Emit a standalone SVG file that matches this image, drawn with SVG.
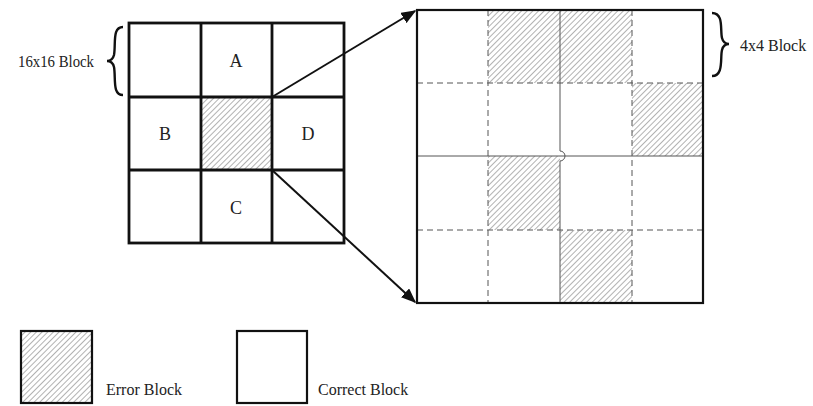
<svg xmlns="http://www.w3.org/2000/svg" width="813" height="406" viewBox="0 0 813 406">
<style>
.t{font-family:"Liberation Serif","Times New Roman",serif;fill:#222}
.lbl{font-size:18px;text-anchor:middle}
.sm{font-size:16px}
.thick{stroke:#111;stroke-width:2.8;fill:none}
.cell{fill:#fff;stroke:#111;stroke-width:2.8}
.err{fill:url(#hatch)}
.dash{stroke:#555;stroke-width:1;stroke-dasharray:6,4;fill:none}
.solid{stroke:#555;stroke-width:1;fill:none}
.conn{stroke:#111;stroke-width:2;fill:none;marker-end:url(#ah)}
.brace{stroke:#111;stroke-width:2.4;fill:none}
</style>
<defs>
<pattern id="hatch" patternUnits="userSpaceOnUse" width="4" height="4" patternTransform="rotate(45)">
<rect width="4" height="4" fill="#fff"/>
<line x1="0" y1="0" x2="0" y2="4" stroke="#888" stroke-width="1.3"/>
</pattern>
<marker id="ah" viewBox="0 0 10 10" refX="9" refY="5" markerWidth="15" markerHeight="12" markerUnits="userSpaceOnUse" orient="auto" preserveAspectRatio="none">
<path d="M0,0 L10,5 L0,10 z" fill="#111"/>
</marker>
</defs>
<rect width="813" height="406" fill="#fff"/>

<g id="grid16">
<rect x="129" y="23" width="215" height="220" class="cell"/>
<rect x="201" y="97" width="71" height="73" class="err"/>
<path class="thick" d="M201,23V243M272,23V243M129,97H344M129,170H344"/>
</g>
<g id="blockA"><text class="t lbl" x="236" y="67">A</text></g>
<g id="blockB"><text class="t lbl" x="165" y="140">B</text></g>
<g id="blockD"><text class="t lbl" x="308" y="140">D</text></g>
<g id="blockC"><text class="t lbl" x="236" y="214">C</text></g>

<g id="label16">
<text class="t sm" x="18" y="67" textLength="76" lengthAdjust="spacingAndGlyphs">16x16 Block</text>
<path class="brace" d="M123,27 C112,27 116,44 114,55 C113,59 110,61 107,61 C110,61 113,63 114,67 C116,78 112,95 123,95"/>
</g>

<g id="grid4">
<rect x="417" y="10" width="286" height="293" fill="#fff"/>
<rect x="488" y="10" width="144" height="73" class="err"/>
<rect x="632" y="83" width="71" height="73" class="err"/>
<rect x="488" y="156" width="72" height="74" class="err"/>
<rect x="560" y="230" width="72" height="73" class="err"/>
<path class="dash" d="M488,10V303M632,10V303M417,83H703M417,230H703"/>
<path class="solid" d="M560,10V151A5,5 0 0 1 560,161V303M417,156H703"/>
<rect x="417" y="10" width="286" height="293" fill="none" stroke="#111" stroke-width="2.2"/>
</g>

<g id="label4">
<text class="t sm" x="740" y="51">4x4 Block</text>
<path class="brace" d="M712,13 C724,13 720,30 722,38 C723,42 726,44 729,44 C726,44 723,46 722,50 C720,58 724,76 712,76"/>
</g>

<g id="connectors">
<line class="conn" x1="272" y1="97" x2="415" y2="11"/>
<line class="conn" x1="272" y1="170" x2="415" y2="302"/>
</g>

<g id="legendError">
<rect x="21" y="331" width="71" height="72" fill="url(#hatch)" stroke="#111" stroke-width="2.2"/>
<text class="t sm" x="106" y="395">Error Block</text>
</g>
<g id="legendCorrect">
<rect x="237" y="331" width="70" height="72" fill="#fff" stroke="#111" stroke-width="2.2"/>
<text class="t sm" x="318" y="395">Correct Block</text>
</g>
</svg>
